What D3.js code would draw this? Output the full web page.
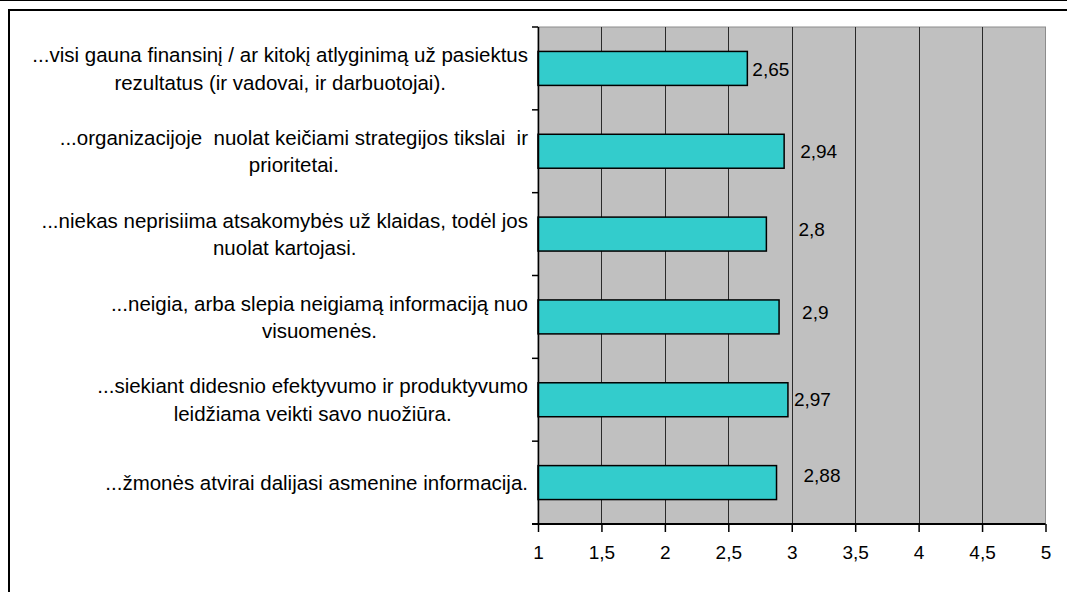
<!DOCTYPE html>
<html lang="lt">
<head>
<meta charset="UTF-8">
<script src="https://d3js.org/d3.v7.min.js"></script>
<style>
body{
	margin: 0;
	background-color: white;
	font-family: "Liberation Sans", Arial, sans-serif;
}
svg text{
	white-space: pre;
}
</style>
</head>
<body>
<svg width="1067" height="592"></svg>

<script>
// category labels (each one split into its printed lines)
const categories = [
	["...visi gauna finansinį / ar kitokį atlyginimą už pasiektus", "rezultatus (ir vadovai, ir darbuotojai)."],
	["...organizacijoje  nuolat keičiami strategijos tikslai  ir", "prioritetai."],
	["...niekas neprisiima atsakomybės už klaidas, todėl jos", "nuolat kartojasi."],
	["...neigia, arba slepia neigiamą informaciją nuo", "visuomenės."],
	["...siekiant didesnio efektyvumo ir produktyvumo", "leidžiama veikti savo nuožiūra."],
	["...žmonės atvirai dalijasi asmenine informacija."]
]
const values = [2.65, 2.94, 2.8, 2.9, 2.97, 2.88]
const valueLabels = ["2,65", "2,94", "2,8", "2,9", "2,97", "2,88"]
const ticks = [1, 1.5, 2, 2.5, 3, 3.5, 4, 4.5, 5]
const tickLabels = ["1", "1,5", "2", "2,5", "3", "3,5", "4", "4,5", "5"]

// hand placed data labels in the original, offsets in px from bar end
const labelNudge = [[5, 1], [16, 0], [32, -5], [23, -5], [6, -1], [27, -7]]

const svg = d3.select("svg")
const plot = {left: 538, right: 1045.5, top: 27, bottom: 524}

// outer frame
svg.append("line")
	.attr("x1", 0).attr("x2", 1067).attr("y1", 0.5).attr("y2", 0.5)
	.style("stroke", "black").style("stroke-width", 1)
svg.append("rect")
	.attr("x", 9).attr("y", 10).attr("width", 1080).attr("height", 600)
	.style("fill", "none").style("stroke", "black").style("stroke-width", 2)

var x = d3.scaleLinear()
	.domain([1, 5])
	.range([plot.left, plot.right])

var y = d3.scaleBand()
	.domain(d3.range(categories.length))
	.range([plot.top, plot.bottom])
	.paddingInner(0.59)
	.paddingOuter(0.295)

// plot background
svg.append("rect")
	.attr("x", plot.left).attr("y", plot.top)
	.attr("width", plot.right - plot.left).attr("height", plot.bottom - plot.top)
	.style("fill", "#c0c0c0")
	.style("stroke", "#8c8c8c").style("stroke-width", 1)

// gridlines
svg.append("g").selectAll("line")
	.data(ticks.slice(1, -1))
	.join("line")
	.attr("x1", d => Math.round(x(d)) + 0.5).attr("x2", d => Math.round(x(d)) + 0.5)
	.attr("y1", plot.top).attr("y2", plot.bottom)
	.style("stroke", "#2a2a2a").style("stroke-width", 1)

// bars
svg.append("g").selectAll("rect")
	.data(values)
	.join("rect")
	.attr("x", x(1))
	.attr("y", (d, i) => y(i))
	.attr("width", d => x(d) - x(1))
	.attr("height", y.bandwidth())
	.style("fill", "#33cccc")
	.style("stroke", "black")
	.style("stroke-width", 1.5)

// value labels
svg.append("g").selectAll("text")
	.data(values)
	.join("text")
	.attr("x", (d, i) => x(d) + labelNudge[i][0])
	.attr("y", (d, i) => y(i) + y.bandwidth() / 2 + labelNudge[i][1])
	.attr("dy", "0.36em")
	.style("font-size", "19px")
	.style("fill", "black")
	.text((d, i) => valueLabels[i])

// left (category) axis
var yAxis = svg.append("g")
yAxis.append("line")
	.attr("x1", plot.left + 0.5).attr("x2", plot.left + 0.5)
	.attr("y1", plot.top).attr("y2", plot.bottom)
	.style("stroke", "black").style("stroke-width", 1.5)
yAxis.selectAll(".catTick")
	.data(d3.range(categories.length + 1))
	.join("line")
	.attr("class", "catTick")
	.attr("x1", plot.left - 6).attr("x2", plot.left)
	.attr("y1", i => plot.top + i * y.step()).attr("y2", i => plot.top + i * y.step())
	.style("stroke", "black").style("stroke-width", 1.5)

// bottom (value) axis
var xAxis = svg.append("g")
	.attr("transform", "translate(0," + plot.bottom + ")")
	.call(d3.axisBottom(x).tickValues(ticks).tickFormat((d, i) => tickLabels[i]).tickSize(8).tickPadding(14))
xAxis.select(".domain").style("stroke", "black").style("stroke-width", 2)
	.attr("d", "M" + (plot.left - 6) + ",0H" + plot.right)
xAxis.selectAll(".tick line").style("stroke", "black").style("stroke-width", 1.5)
xAxis.selectAll(".tick text")
	.style("font-family", "'Liberation Sans', Arial, sans-serif")
	.style("font-size", "19px")
	.style("fill", "black")

// category labels: block right aligned, lines centred on each other
var labelG = svg.append("g")
var lineGap = 27.5
categories.forEach(function(lines, i) {
	var g = labelG.append("g")
	var texts = g.selectAll("text")
		.data(lines)
		.join("text")
		.attr("y", (d, j) => y(i) + y.bandwidth() / 2 + (j - (lines.length - 1) / 2) * lineGap)
		.attr("dy", "0.36em")
		.attr("text-anchor", "middle")
		.style("font-size", "20.5px")
		.style("fill", "black")
		.text(d => d)
	var widest = d3.max(texts.nodes(), n => n.getComputedTextLength())
	texts.attr("x", plot.left - 10 - widest / 2)
})
</script>
</body>
</html>
